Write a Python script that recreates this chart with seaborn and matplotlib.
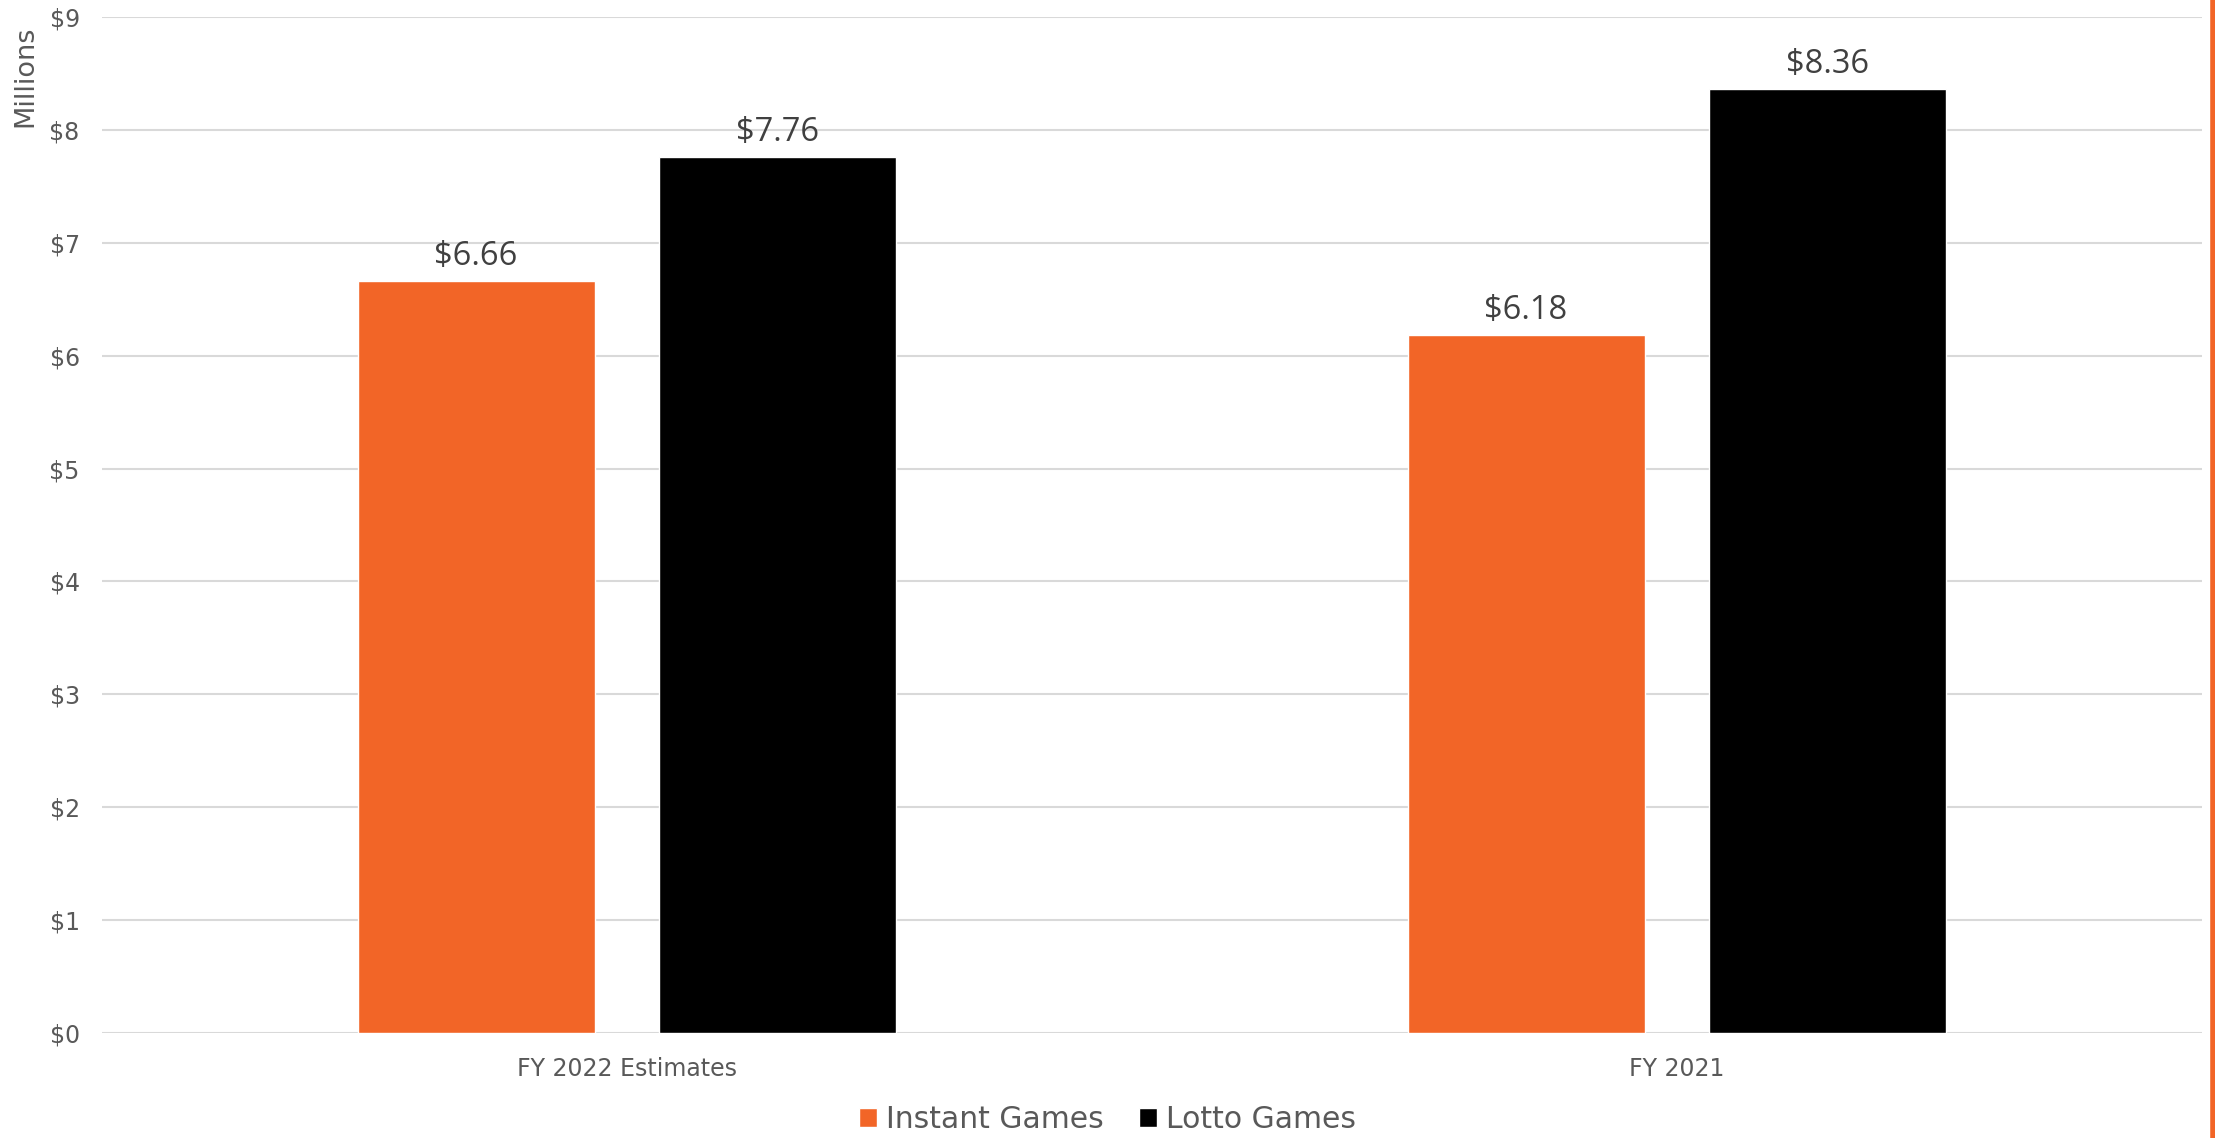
import matplotlib
matplotlib.use('Agg')
import matplotlib.pyplot as plt
from matplotlib.lines import Line2D
import seaborn as sns
import pandas as pd

# Data (values in millions)
years = ['FY 2022 Estimates', 'FY 2021']
games = ['Instant Games', 'Lotto Games']
instant = [6.66, 6.18]
lotto = [7.76, 8.36]
yticks = list(range(0, 10))

colors = {'Instant Games': '#F26527', 'Lotto Games': '#000000'}
grey = '#595959'

df = pd.DataFrame({
    'Year': years * 2,
    'Game': [games[0]] * len(years) + [games[1]] * len(years),
    'Value': instant + lotto,
})

sns.set_theme(style='white')
plt.rcParams['font.family'] = ['DejaVu Sans']

fig = plt.figure(figsize=(22.15, 11.38), dpi=100)
ax = fig.add_axes([0.046, 0.0923, 0.948, 0.8928])

sns.barplot(data=df, x='Year', y='Value', hue='Game', order=years, hue_order=games,
            palette=colors, width=0.574, gap=0.213, saturation=1, ax=ax, legend=True)

# value labels
for cont in ax.containers:
    ax.bar_label(cont, labels=[f'${v:.2f}' for v in cont.datavalues], padding=6,
                 fontsize=23.5, color='#404040', family='Open Sans')

ax.set_ylim(0, 9)
ax.set_xlim(-0.5, 1.5)
ax.set_yticks(yticks)
ax.set_yticklabels([f'${t}' for t in yticks])
ax.yaxis.grid(True, color='#d9d9d9', linewidth=1.5)
ax.set_axisbelow(True)
for s in ax.spines.values():
    s.set_visible(False)
ax.tick_params(axis='y', length=0, pad=16, labelsize=17, labelcolor=grey)
ax.tick_params(axis='x', length=0, pad=17, labelsize=17, labelcolor=grey)
ax.set_xlabel('')
ax.set_ylabel('')

fig.text(0.0113, 0.978, 'Millions', rotation=90, ha='center', va='top',
         fontsize=19.5, color=grey)

# legend at the bottom
handles, labels = ax.get_legend_handles_labels()
ax.get_legend().remove()
fig.legend(handles, labels, loc='center', bbox_to_anchor=(0.5, 0.016), ncol=2,
           frameon=False, fontsize=21.5, labelcolor=grey, handlelength=0.6,
           handleheight=0.6, handletextpad=0.3, columnspacing=1.2)

# orange border on the right edge
fig.add_artist(Line2D([0.9989, 0.9989], [0, 1], color='#F26527', linewidth=4,
                      transform=fig.transFigure))

fig.savefig('out.png', dpi=100)
